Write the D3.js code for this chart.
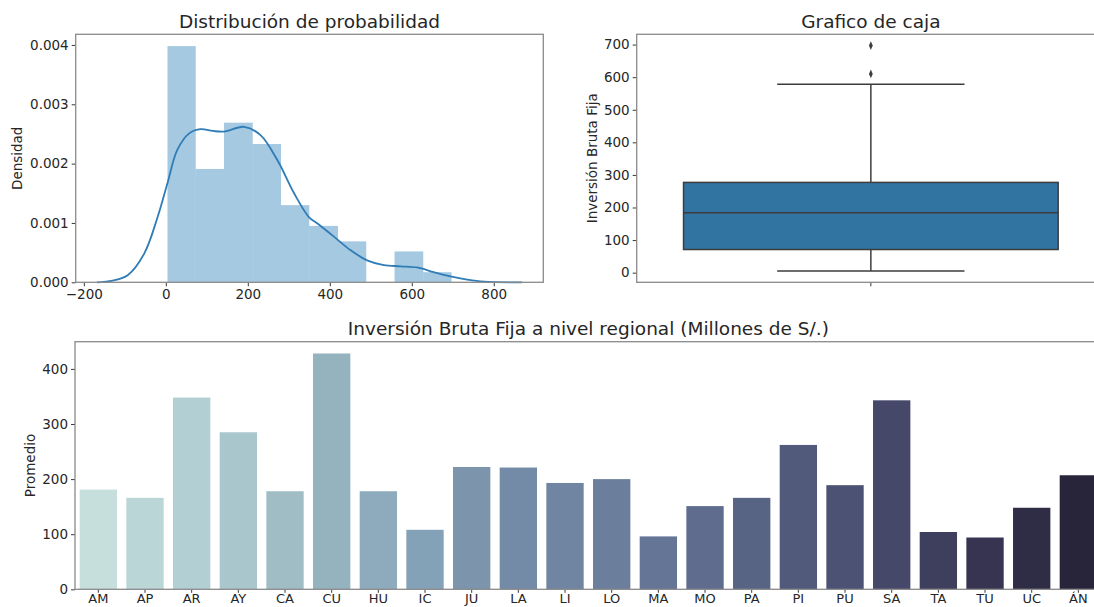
<!DOCTYPE html>
<html>
<head>
<meta charset="utf-8">
<script src="https://cdn.jsdelivr.net/npm/d3@7"></script>
<style>
  html, body { margin: 0; padding: 0; background: #fff; }
  svg { display: block; font-family: "DejaVu Sans", sans-serif; }
</style>
</head>
<body>
<svg id="fig" width="1094" height="607"></svg>
<script>
// ---- Histogram of gross fixed investment (density) ----
const histEdges = [4, 73, 142, 212, 281, 350, 420, 489, 558, 628, 697];
const histDensity = [0.00398, 0.00191, 0.00269, 0.00233, 0.00130, 0.00095, 0.00069, 0, 0.00052, 0.00017];

// Kernel density estimate, sampled along the value axis
const kdeX = [-168, -130, -93, -53, -20, 4, 28, 57, 85, 115, 142, 191, 231, 272, 313, 349, 370, 410, 451, 491, 532, 573, 613, 654, 694, 735, 776, 869];
const kdeY = [0, 0.00003, 0.00012, 0.00048, 0.0011, 0.00167, 0.00223, 0.00251, 0.00258, 0.00255, 0.00254, 0.00262, 0.00248, 0.00206, 0.0015, 0.0011, 0.00099, 0.00077, 0.00054, 0.00037, 0.00029, 0.00027, 0.00025, 0.00017, 0.0001, 0.000045, 0.00001, 0];

const histXTicks = [-200, 0, 200, 400, 600, 800];
const histYTicks = [0, 0.001, 0.002, 0.003, 0.004];

// ---- Box plot summary ----
const boxStats = { whiskerLow: 5, q1: 71, median: 184, q3: 277, whiskerHigh: 578 };
const boxOutliers = [610, 697];
const boxDataMin = 5;
const boxDataMax = 697;
const boxYTicks = [0, 100, 200, 300, 400, 500, 600, 700];

// ---- Regional averages ----
const regions = ["AM", "AP", "AR", "AY", "CA", "CU", "HU", "IC", "JU", "LA", "LI", "LO", "MA", "MO", "PA", "PI", "PU", "SA", "TA", "TU", "UC", "ÁN"];
const regionMeans = [181, 166, 348, 285, 178, 428, 178, 108, 222, 221, 193, 200, 96, 151, 166, 262, 189, 343, 104, 94, 148, 207];
const regionColors = ["#c6dfdd", "#bbd6d7", "#b2cfd3", "#a9c6cd", "#a0bdc6", "#94b3bf", "#8dabbd", "#84a2b7", "#7c95ac", "#738ba7", "#6f85a1",
                      "#6b7f9d", "#647596", "#5f6c8e", "#586484", "#525a7c", "#4c5274", "#46486a", "#3e3f5d", "#363450", "#2f2c45", "#28243a"];
const barYTicks = [0, 100, 200, 300, 400];

// ---- Styling ----
const spineColor = "#8a8a8a";
const tickColor = "#3a3a3a";
const textColor = "#262626";
const tickFont = 13.5;
const labelFont = 13.5;
const titleFont = 18.5;

const svg = d3.select("#fig");
svg.append("rect").attr("width", 1094).attr("height", 607).attr("fill", "#fff");

function frame(g, x0, x1, y0, y1) {
  g.append("rect")
    .attr("x", x0).attr("y", y0)
    .attr("width", x1 - x0).attr("height", y1 - y0)
    .attr("fill", "none").attr("stroke", spineColor).attr("stroke-width", 1.3);
}

function styleAxis(sel, size) {
  sel.select(".domain").remove();
  sel.selectAll(".tick line").attr("stroke", tickColor).attr("stroke-width", 1);
  sel.selectAll(".tick text").attr("fill", textColor).attr("font-size", size || tickFont)
     .attr("font-family", "DejaVu Sans, sans-serif");
}

// ================= Panel 1: distribution =================
{
  const L = 75.7, R = 543.3, T = 34.3, B = 282.3;
  const kMin = d3.min(kdeX), kMax = d3.max(kdeX);
  const pad = (kMax - kMin) * 0.05;
  const x = d3.scaleLinear().domain([kMin - pad, kMax + pad]).range([L, R]);
  const y = d3.scaleLinear().domain([0, d3.max(histDensity) * 1.05]).range([B, T]);
  const g = svg.append("g");

  g.selectAll("rect.bin").data(histDensity).join("rect")
    .attr("class", "bin")
    .attr("x", (d, i) => x(histEdges[i]))
    .attr("width", (d, i) => x(histEdges[i + 1]) - x(histEdges[i]))
    .attr("y", d => y(d))
    .attr("height", d => B - y(d))
    .attr("fill", "#1f77b4").attr("fill-opacity", 0.4);

  const line = d3.line().x(d => x(d[0])).y(d => y(d[1])).curve(d3.curveCatmullRom);
  g.append("path")
    .datum(kdeX.map((v, i) => [v, kdeY[i]]))
    .attr("d", line)
    .attr("fill", "none").attr("stroke", "#2f7cb6").attr("stroke-width", 1.8);

  const ax = g.append("g").attr("transform", `translate(0,${B})`)
    .call(d3.axisBottom(x).tickValues(histXTicks).tickSize(4).tickPadding(3).tickFormat(d => d < 0 ? "\u2212" + Math.abs(d) : d));
  styleAxis(ax);
  const ay = g.append("g").attr("transform", `translate(${L},0)`)
    .call(d3.axisLeft(y).tickValues(histYTicks).tickSize(4).tickPadding(3).tickFormat(d3.format(".3f")));
  styleAxis(ay);

  frame(g, L, R, T, B);

  g.append("text").attr("x", (L + R) / 2).attr("y", 28).attr("text-anchor", "middle")
    .attr("font-size", titleFont).attr("fill", textColor).text("Distribución de probabilidad");
  g.append("text").attr("transform", `translate(22,${(T + B) / 2}) rotate(-90)`)
    .attr("text-anchor", "middle").attr("font-size", labelFont).attr("fill", textColor).text("Densidad");
}

// ================= Panel 2: box plot =================
{
  const L = 636.7, R = 1105, T = 34.3, B = 282.3;
  const pad = (boxDataMax - boxDataMin) * 0.05;
  const y = d3.scaleLinear().domain([boxDataMin - pad, boxDataMax + pad]).range([B, T]);
  const x = d3.scaleBand().domain(["Inversión Bruta Fija"]).range([L, R]).paddingInner(0.2).paddingOuter(0.1);
  const cx = x("Inversión Bruta Fija") + x.bandwidth() / 2;
  const bw = x.bandwidth();
  const g = svg.append("g");
  const edge = "#3d3d3d";

  // whiskers
  g.append("line").attr("x1", cx).attr("x2", cx).attr("y1", y(boxStats.q3)).attr("y2", y(boxStats.whiskerHigh))
    .attr("stroke", edge).attr("stroke-width", 1.5);
  g.append("line").attr("x1", cx).attr("x2", cx).attr("y1", y(boxStats.q1)).attr("y2", y(boxStats.whiskerLow))
    .attr("stroke", edge).attr("stroke-width", 1.5);
  [boxStats.whiskerHigh, boxStats.whiskerLow].forEach(v => {
    g.append("line").attr("x1", cx - bw / 4).attr("x2", cx + bw / 4).attr("y1", y(v)).attr("y2", y(v))
      .attr("stroke", edge).attr("stroke-width", 1.5);
  });
  // box
  g.append("rect").attr("x", cx - bw / 2).attr("width", bw)
    .attr("y", y(boxStats.q3)).attr("height", y(boxStats.q1) - y(boxStats.q3))
    .attr("fill", "#3274a1").attr("stroke", edge).attr("stroke-width", 1.5);
  g.append("line").attr("x1", cx - bw / 2).attr("x2", cx + bw / 2)
    .attr("y1", y(boxStats.median)).attr("y2", y(boxStats.median))
    .attr("stroke", edge).attr("stroke-width", 1.5);
  // outliers (thin diamonds)
  g.selectAll("path.out").data(boxOutliers).join("path")
    .attr("class", "out")
    .attr("d", d3.symbol(d3.symbolDiamond, 22))
    .attr("transform", d => `translate(${cx},${y(d)}) scale(0.75,1)`)
    .attr("fill", edge);

  const ay = g.append("g").attr("transform", `translate(${L},0)`)
    .call(d3.axisLeft(y).tickValues(boxYTicks).tickSize(4).tickPadding(3));
  styleAxis(ay);
  // single category tick, unlabelled
  g.append("line").attr("x1", cx).attr("x2", cx).attr("y1", B).attr("y2", B + 4)
    .attr("stroke", tickColor).attr("stroke-width", 1);

  frame(g, L, R, T, B);

  g.append("text").attr("x", (L + R) / 2).attr("y", 28).attr("text-anchor", "middle")
    .attr("font-size", titleFont).attr("fill", textColor).text("Grafico de caja");
  g.append("text").attr("transform", `translate(597,${(T + B) / 2}) rotate(-90)`)
    .attr("text-anchor", "middle").attr("font-size", labelFont).attr("fill", textColor).text("Inversión Bruta Fija");
}

// ================= Panel 3: regional averages =================
{
  const L = 75, R = 1101.7, T = 341.7, B = 589.3;
  const x = d3.scaleBand().domain(regions).range([L, R]).paddingInner(0.2).paddingOuter(0.1);
  const y = d3.scaleLinear().domain([0, d3.max(regionMeans) * 1.05]).range([B, T]);
  const g = svg.append("g");

  g.selectAll("rect.bar").data(regions).join("rect")
    .attr("class", "bar")
    .attr("x", d => x(d))
    .attr("width", x.bandwidth())
    .attr("y", (d, i) => y(regionMeans[i]))
    .attr("height", (d, i) => B - y(regionMeans[i]))
    .attr("fill", (d, i) => regionColors[i]);

  const ax = g.append("g").attr("transform", `translate(0,${B})`)
    .call(d3.axisBottom(x).tickSize(3.5).tickPadding(1));
  styleAxis(ax, 13);
  ax.selectAll(".tick text").attr("dy", "0.68em");
  const ay = g.append("g").attr("transform", `translate(${L},0)`)
    .call(d3.axisLeft(y).tickValues(barYTicks).tickSize(4).tickPadding(3));
  styleAxis(ay);

  frame(g, L, R, T, B);

  g.append("text").attr("x", (L + R) / 2).attr("y", 335).attr("text-anchor", "middle")
    .attr("font-size", titleFont).attr("fill", textColor).text("Inversión Bruta Fija a nivel regional (Millones de S/.)");
  g.append("text").attr("transform", `translate(35,${(T + B) / 2}) rotate(-90)`)
    .attr("text-anchor", "middle").attr("font-size", labelFont).attr("fill", textColor).text("Promedio");
}
</script>
</body>
</html>
